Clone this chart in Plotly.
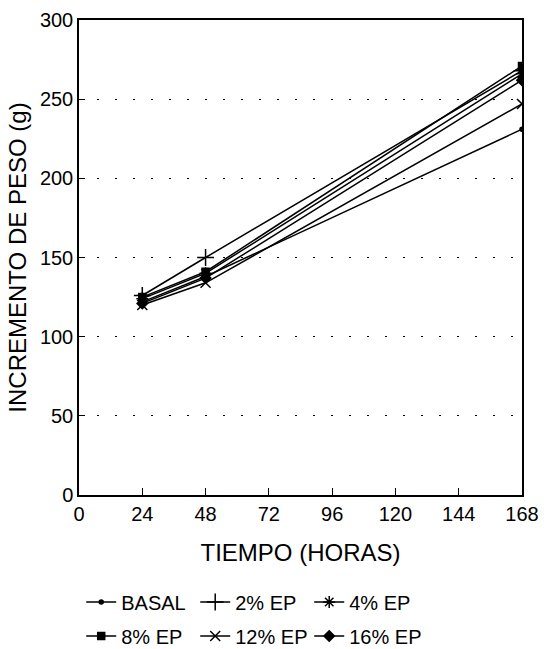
import plotly.graph_objects as go

hours = [24, 48, 168]
series_names = ["BASAL", "2% EP", "4% EP", "8% EP", "12% EP", "16% EP"]
basal = [122, 138, 231]
ep2 = [126, 150, 268]
ep4 = [124, 140, 266]
ep8 = [125, 141, 271]
ep12 = [120, 134, 247]
ep16 = [121, 137, 262]
x_ticks = [0, 24, 48, 72, 96, 120, 144, 168]
y_ticks = [0, 50, 100, 150, 200, 250, 300]

series_values = [basal, ep2, ep4, ep8, ep12, ep16]
symbols = ["circle", "cross-thin-open", "asterisk-open", "square", "x-thin-open", "diamond"]
sizes = [4, 12, 10, 7, 10, 8]
legends = ["legend", "legend", "legend", "legend2", "legend2", "legend2"]

FONT = "Liberation Sans, Arial, sans-serif"

fig = go.Figure()
for name, vals, sym, sz, lg in zip(series_names, series_values, symbols, sizes, legends):
    fig.add_trace(go.Scatter(
        x=hours, y=vals, name=name, mode="lines+markers",
        line=dict(color="black", width=1.5),
        marker=dict(symbol=sym, size=sz, color="black",
                    line=dict(color="black", width=1.5)),
        legend=lg,
    ))

leg_common = dict(orientation="h", x=0.005, xanchor="left", xref="paper",
                  yref="container", yanchor="middle",
                  entrywidth=69, entrywidthmode="pixels",
                  font=dict(size=20, family=FONT, color="black"), itemwidth=30,
                  bgcolor="rgba(0,0,0,0)")

fig.update_layout(
    width=544, height=649,
    margin=dict(l=79, r=22, t=20, b=154, autoexpand=False),
    paper_bgcolor="white", plot_bgcolor="white",
    font=dict(family=FONT, size=20, color="black"),
    showlegend=True,
    legend=dict(leg_common, y=1 - 602 / 649),
    legend2=dict(leg_common, y=1 - 636 / 649),
    xaxis=dict(range=[0, 168], tickvals=x_ticks, ticks="inside", ticklen=7,
               tickcolor="black", linecolor="black", linewidth=1.5, mirror=True,
               showgrid=False, zeroline=False,
               title=dict(text="TIEMPO (HORAS)", standoff=20),
               tickfont=dict(size=20)),
    yaxis=dict(range=[0, 300], tickvals=y_ticks, ticks="inside", ticklen=6,
               tickcolor="black", linecolor="black", linewidth=1.5, mirror=True,
               showgrid=True, gridcolor="black", griddash="2px,16px", gridwidth=1,
               zeroline=False,
               title=dict(text="INCREMENTO DE PESO (g)", standoff=6),
               tickfont=dict(size=20)),
)

fig.write_html("out.html")
